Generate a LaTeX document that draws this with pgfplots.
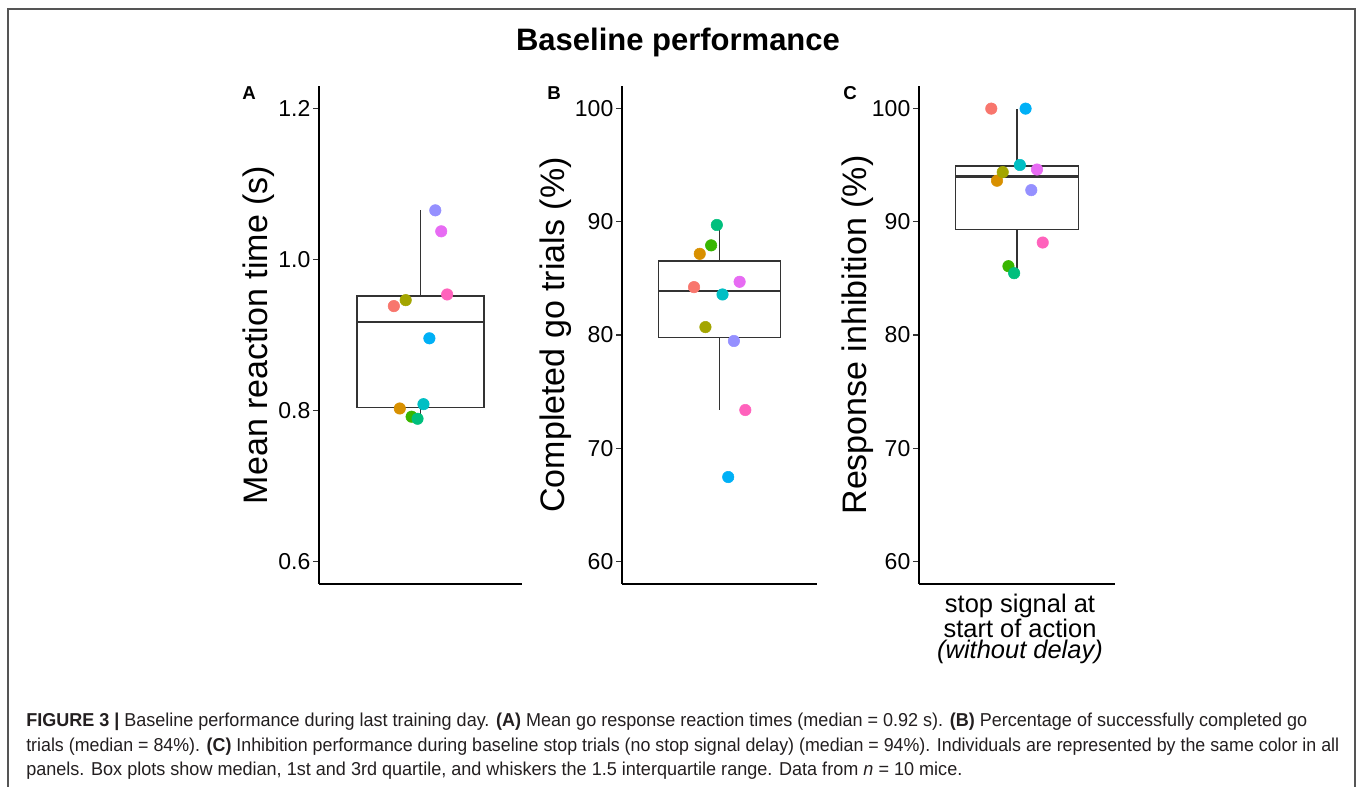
\documentclass[border=0pt]{standalone}
\usepackage{pgfplots}
\pgfplotsset{compat=1.18}
\usepackage{fontspec}
\setmainfont{Liberation Sans}
\usepackage{graphicx}

\definecolor{c1}{HTML}{F8766D}
\definecolor{c2}{HTML}{D89000}
\definecolor{c3}{HTML}{A3A500}
\definecolor{c4}{HTML}{39B600}
\definecolor{c5}{HTML}{00BF7D}
\definecolor{c6}{HTML}{00BFC4}
\definecolor{c7}{HTML}{00B0F6}
\definecolor{c8}{HTML}{9590FF}
\definecolor{c9}{HTML}{E76BF3}
\definecolor{c10}{HTML}{FF62BC}
\definecolor{boxgray}{HTML}{333333}
\definecolor{capgray}{HTML}{231F20}
\definecolor{framegray}{HTML}{555555}

\pgfplotsset{
  panel/.style={
    scale only axis,
    height=373.5pt,
    anchor=south west,
    xmin=0.4, xmax=1.6,
    axis x line*=bottom, axis y line*=left,
    axis line style={black, line width=1pt, -},
    xtick=\empty,
    tick align=outside,
    major tick length=4.5pt,
    ytick style={boxgray, line width=0.9pt},
    /pgf/number format/assume math mode=true,
    yticklabel style={font=\fontsize{17.25}{17.25}\selectfont, text=black, xshift=1.5pt},
    ylabel style={font=\fontsize{25.5}{25.5}\selectfont, anchor=base},
    clip=false,
  },
  mice/.style={
    only marks, scatter, scatter src=explicit symbolic, mark size=4.3pt,
    scatter/classes={
      a={mark=*,c1}, b={mark=*,c2}, c={mark=*,c3}, d={mark=*,c4}, e={mark=*,c5},
      f={mark=*,c6}, g={mark=*,c7}, h={mark=*,c8}, i={mark=*,c9}, j={mark=*,c10}}
  },
  boxline/.style={boxgray, line width=1pt, no marks},
  medline/.style={boxgray, line width=2pt, no marks},
}

\pgfplotstableread{
x y c
0.8425 0.9383 a
0.8775 0.8026 b
0.9125 0.9462 c
0.9475 0.7917 d
0.9825 0.7890 e
1.0175 0.8083 f
1.0525 0.8956 g
1.0875 1.0652 h
1.1225 1.0374 i
1.1575 0.9537 j
}\dataA

\pgfplotstableread{
x y c
0.8425 84.23 a
0.8775 87.17 b
0.9125 80.70 c
0.9475 87.92 d
0.9825 89.72 e
1.0175 83.58 f
1.0525 67.45 g
1.0875 79.47 h
1.1225 84.70 i
1.1575 73.37 j
}\dataB

\pgfplotstableread{
x y c
0.8425 100.00 a
0.8775 93.63 b
0.9125 94.39 c
0.9475 86.08 d
0.9825 85.46 e
1.0175 95.02 f
1.0525 100.00 g
1.0875 92.80 h
1.1225 94.62 i
1.1575 88.17 j
}\dataC

\begin{document}
\begin{tikzpicture}
\useasboundingbox (0,0) rectangle (1018.5pt,590.25pt);

% frame
\draw[framegray, line width=1.1pt] (6pt,0pt) -- (6pt,583.5pt) -- (1016.25pt,583.5pt) -- (1016.25pt,0pt);

% title
\node[anchor=base, inner sep=0pt, font=\bfseries\fontsize{23.25}{23.25}\selectfont] at (508.5pt,552pt) {Baseline performance};

% panel letters
\node[anchor=base west, inner sep=0pt, font=\bfseries\fontsize{14}{14}\selectfont] at (181.5pt,515.25pt) {A};
\node[anchor=base west, inner sep=0pt, font=\bfseries\fontsize{14}{14}\selectfont] at (410.25pt,515.25pt) {B};
\node[anchor=base west, inner sep=0pt, font=\bfseries\fontsize{14}{14}\selectfont] at (632.25pt,515.25pt) {C};

% Panel A
\begin{axis}[panel, at={(239.25pt,152.25pt)}, width=152.25pt,
  ymin=0.57, ymax=1.23, ytick={0.6,0.8,1.0,1.2},
  yticklabel style={/pgf/number format/.cd, fixed, fixed zerofill, precision=1},
  ylabel={Mean reaction time (s)},
  ylabel style={at={(axis description cs:-0.254,0.5)}}]
\addplot[boxline] coordinates {(1,0.9518) (1,1.0652)};
\addplot[boxline] coordinates {(1,0.8040) (1,0.7890)};
\addplot[boxline, fill=white] coordinates {(0.625,0.8040) (1.375,0.8040) (1.375,0.9518) (0.625,0.9518)} -- cycle;
\addplot[medline] coordinates {(0.625,0.9170) (1.375,0.9170)};
\addplot[mice] table[x=x, y=y, meta=c] {\dataA};
\end{axis}

% Panel B
\begin{axis}[panel, at={(466.5pt,152.25pt)}, width=146.5pt,
  ymin=58, ymax=102, ytick={60,70,80,90,100},
  ylabel={Completed go trials (\%)},
  ylabel style={at={(axis description cs:-0.294,0.5)}}]
\addplot[boxline] coordinates {(1,86.55) (1,89.72)};
\addplot[boxline] coordinates {(1,79.78) (1,73.37)};
\addplot[boxline, fill=white] coordinates {(0.625,79.78) (1.375,79.78) (1.375,86.55) (0.625,86.55)} -- cycle;
\addplot[medline] coordinates {(0.625,83.90) (1.375,83.90)};
\addplot[mice] table[x=x, y=y, meta=c] {\dataB};
\end{axis}

% Panel C
\begin{axis}[panel, at={(689.25pt,152.25pt)}, width=147pt,
  ymin=58, ymax=102, ytick={60,70,80,90,100},
  ylabel={Response inhibition (\%)},
  ylabel style={at={(axis description cs:-0.268,0.5)}}]
\addplot[boxline] coordinates {(1,94.92) (1,100)};
\addplot[boxline] coordinates {(1,89.33) (1,85.46)};
\addplot[boxline, fill=white] coordinates {(0.625,89.33) (1.375,89.33) (1.375,94.92) (0.625,94.92)} -- cycle;
\addplot[medline] coordinates {(0.625,94.01) (1.375,94.01)};
\addplot[mice] table[x=x, y=y, meta=c] {\dataC};
\end{axis}

% x label of panel C (one node, three lines)
\node[anchor=north, align=center, inner sep=0pt, font=\fontsize{19.1}{18.75}\selectfont] at (765pt,145.2pt)
  {stop signal at\\start of action\\[-2.5pt]\textit{(without delay)}};

% caption
\node[anchor=base west, inner sep=0pt, text=capgray, font=\fontsize{14}{14}\selectfont] at (19.5pt,45.2pt)
  {\resizebox{960.75pt}{\height}{\textbf{FIGURE 3 |} Baseline performance during last training day. \textbf{(A)} Mean go response reaction times (median = 0.92 s). \textbf{(B)} Percentage of successfully completed go}};
\node[anchor=base west, inner sep=0pt, text=capgray, font=\fontsize{14}{14}\selectfont] at (19.5pt,26.6pt)
  {\resizebox{984.75pt}{\height}{trials (median = 84\%). \textbf{(C)} Inhibition performance during baseline stop trials (no stop signal delay) (median = 94\%). Individuals are represented by the same color in all}};
\node[anchor=base west, inner sep=0pt, text=capgray, font=\fontsize{14}{14}\selectfont] at (19.5pt,8.25pt)
  {\resizebox{702pt}{\height}{panels. Box plots show median, 1st and 3rd quartile, and whiskers the 1.5 interquartile range. Data from \textit{n} = 10 mice.}};
\end{tikzpicture}
\end{document}
